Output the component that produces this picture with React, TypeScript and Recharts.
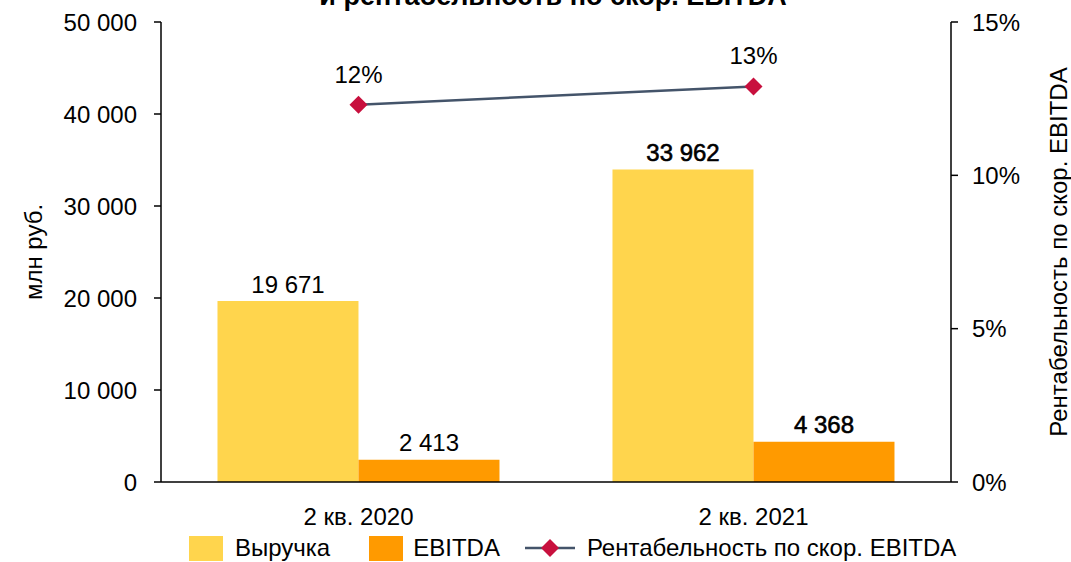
import React from 'react';
import { ComposedChart, Bar, Line, XAxis, YAxis, LabelList } from 'recharts';

const categories = ['2 кв. 2020', '2 кв. 2021'];
const revenue = [19671, 33962];
const ebitda = [2413, 4368];
const margin = [12.3, 12.9];
const leftTicks = [0, 10000, 20000, 30000, 40000, 50000];
const rightTicks = [0, 5, 10, 15];
const boundaryTicks = [0, 1, 2];

const data = categories.map((c, i) => ({ cat: c, revenue: revenue[i], ebitda: ebitda[i], margin: margin[i] }));

const FONT = '"Liberation Sans", Arial, sans-serif';
const FS = 24;
const YELLOW = '#FFD54D';
const ORANGE = '#FF9A00';
const LINE = '#44546A';
const MARK = '#C8103E';

const fmtNum = (v: number) => String(v).replace(/\B(?=(\d{3})+(?!\d))/g, ' ');

const Diamond = (props: any) => {
  const { cx, cy } = props;
  if (cx == null || cy == null) return null;
  const r = 9;
  return <path d={`M${cx},${cy - r}L${cx + r},${cy}L${cx},${cy + r}L${cx - r},${cy}Z`} fill={MARK} />;
};

const barLabel = (props: any) => {
  const { x, y, width, value, index } = props;
  const strong = index === 1;
  return (
    <text x={x + width / 2} y={y - 8.5} textAnchor="middle" fontSize={FS} fontFamily={FONT}
      fill="#000" stroke={strong ? '#000' : 'none'} strokeWidth={strong ? 0.6 : 0}>
      {fmtNum(value)}
    </text>
  );
};

const lineLabel = (props: any) => {
  const { x, y, value } = props;
  return (
    <text x={x} y={y - 22} textAnchor="middle" fontSize={FS} fontFamily={FONT} fill="#000">
      {`${Math.round(value)}%`}
    </text>
  );
};

export default function App() {
  return (
    <div style={{ position: 'absolute', left: 0, top: 0, width: 1071, height: 562, background: '#fff', fontFamily: FONT }}>
      <svg width={1071} height={30} style={{ position: 'absolute', left: 0, top: 0 }}>
        <text x={553} y={5} textAnchor="middle" fontSize={27} fontWeight="bold" fontFamily={FONT} fill="#000">
          и рентабельность по скор. EBITDA
        </text>
      </svg>
      <ComposedChart width={1071} height={562} data={data}
        margin={{ top: 22, right: 0, bottom: 30, left: 0 }}
        barCategoryGap="14.3%" barGap={0}
        style={{ position: 'absolute', left: 0, top: 0 }}>
        <XAxis xAxisId="ticks" type="number" domain={[0, 2]} ticks={boundaryTicks} tick={false}
          tickSize={7} axisLine={false} height={0} stroke="#000" allowDataOverflow
          tickLine={{ stroke: '#000', strokeWidth: 1.5 }} />
        <XAxis xAxisId="cat" dataKey="cat" height={50} tickSize={0} tickMargin={26} tickLine={false}
          axisLine={{ stroke: '#000', strokeWidth: 1.5 }}
          tick={{ fill: '#000', fontSize: FS, fontFamily: FONT }} />
        <YAxis yAxisId="left" width={161} domain={[0, 50000]} ticks={leftTicks} tickFormatter={fmtNum}
          tickSize={7} tickMargin={17} interval={0}
          axisLine={{ stroke: '#000', strokeWidth: 1.5 }} tickLine={{ stroke: '#000', strokeWidth: 1.5 }}
          tick={{ fill: '#000', fontSize: FS, fontFamily: FONT }}
          label={({ viewBox }: any) => {
            const x = viewBox.x + 33;
            const y = viewBox.y + viewBox.height / 2;
            return <text x={x} y={y} transform={`rotate(-90 ${x} ${y})`} textAnchor="middle" dominantBaseline="central"
              fontSize={FS} fontFamily={FONT} fill="#000">млн руб.</text>;
          }} />
        <YAxis yAxisId="right" orientation="right" width={120} domain={[0, 15]} ticks={rightTicks}
          tickFormatter={(v: number) => `${v}%`} tickSize={7} tickMargin={14} interval={0}
          axisLine={{ stroke: '#000', strokeWidth: 1.5 }} tickLine={{ stroke: '#000', strokeWidth: 1.5 }}
          tick={{ fill: '#000', fontSize: FS, fontFamily: FONT }}
          label={({ viewBox }: any) => {
            const x = viewBox.x + 107;
            const y = viewBox.y + viewBox.height / 2;
            return <text x={x} y={y} transform={`rotate(-90 ${x} ${y})`} textAnchor="middle" dominantBaseline="central"
              fontSize={FS} fontFamily={FONT} fill="#000">Рентабельность по скор. EBITDA</text>;
          }} />
        <Bar xAxisId="cat" yAxisId="left" dataKey="revenue" name="Выручка" fill={YELLOW} isAnimationActive={false}>
          <LabelList dataKey="revenue" content={barLabel} />
        </Bar>
        <Bar xAxisId="cat" yAxisId="left" dataKey="ebitda" name="EBITDA" fill={ORANGE} isAnimationActive={false}>
          <LabelList dataKey="ebitda" content={barLabel} />
        </Bar>
        <Line xAxisId="cat" yAxisId="right" dataKey="margin" name="Рентабельность по скор. EBITDA"
          stroke={LINE} strokeWidth={2.5} dot={<Diamond />} activeDot={false} isAnimationActive={false}>
          <LabelList dataKey="margin" content={lineLabel} />
        </Line>
      </ComposedChart>
      <div style={{ position: 'absolute', left: 189, top: 535, height: 26, display: 'flex', alignItems: 'center',
        fontSize: FS, fontFamily: FONT, color: '#000', whiteSpace: 'nowrap' }}>
        <span style={{ display: 'inline-block', width: 34, height: 25, background: YELLOW }} />
        <span style={{ marginLeft: 12 }}>Выручка</span>
        <span style={{ display: 'inline-block', width: 34, height: 25, background: ORANGE, marginLeft: 39 }} />
        <span style={{ marginLeft: 10 }}>EBITDA</span>
        <svg width={52} height={26} style={{ marginLeft: 24 }}>
          <line x1={1} y1={13} x2={51} y2={13} stroke={LINE} strokeWidth={2.5} />
          <path d="M26,4L35,13L26,22L17,13Z" fill={MARK} />
        </svg>
        <span style={{ marginLeft: 11 }}>Рентабельность по скор. EBITDA</span>
      </div>
    </div>
  );
}
